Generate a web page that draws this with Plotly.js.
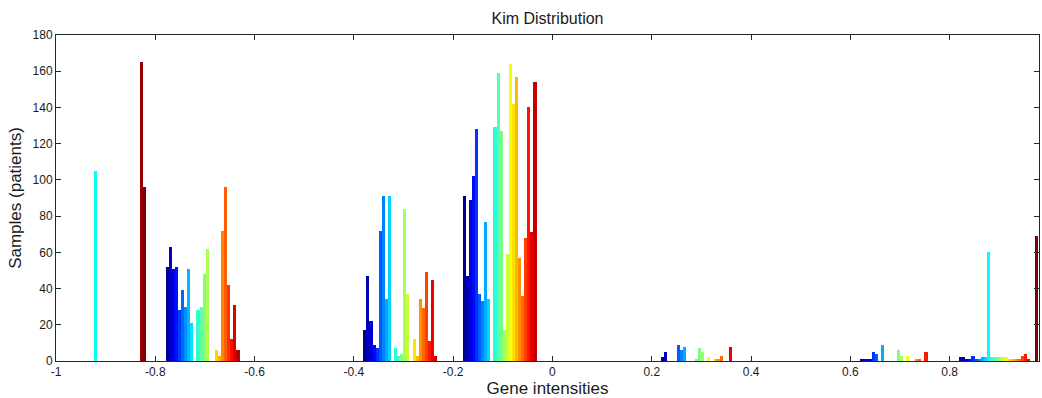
<!DOCTYPE html>
<html>
<head>
<meta charset="utf-8">
<script src="https://cdn.plot.ly/plotly-3.0.1.min.js"></script>
<style>html,body{margin:0;padding:0;background:#fff;}#chart{width:1042px;height:398px;}</style>
</head>
<body>
<div id="chart"></div>
<script>
// ---- data: bin centres (gene intensity) and sample counts ----
var binsA = [-0.9200, -0.8284, -0.8222];
var countsA = [105, 165, 96];

var binsB = [-0.7760, -0.7698, -0.7636, -0.7574, -0.7512, -0.7450, -0.7388, -0.7326, -0.7264,
             -0.7140, -0.7078, -0.7016, -0.6954, -0.6768, -0.6706, -0.6644, -0.6582, -0.6520,
             -0.6458, -0.6396, -0.6334];
var countsB = [52, 63, 51, 52, 28, 39, 30, 51, 21, 28, 30, 48, 62, 6, 3, 72, 96, 42, 12, 31, 6];

var binsC = [-0.3780, -0.3718, -0.3656, -0.3594, -0.3532, -0.3470, -0.3408, -0.3346, -0.3284,
             -0.3160, -0.3098, -0.3036, -0.2974, -0.2912, -0.2788, -0.2726, -0.2664, -0.2602,
             -0.2540, -0.2478, -0.2416, -0.2354];
var countsC = [17, 47, 22, 9, 7, 72, 91, 34, 91, 7, 3, 4, 84, 37, 12, 3, 34, 29, 49, 11, 45, 3];

var binsD = [-0.1778, -0.1716, -0.1654, -0.1592, -0.1530, -0.1468, -0.1406, -0.1344, -0.1282,
             -0.1158, -0.1096, -0.1034, -0.0972, -0.0910, -0.0848, -0.0786, -0.0724, -0.0662,
             -0.0600, -0.0538, -0.0476, -0.0414, -0.0352];
var countsD = [91, 47, 89, 102, 128, 37, 33, 77, 34, 129, 159, 127, 17, 59, 164, 142, 157, 57,
               36, 68, 140, 71, 154];

var binsE = [0.2222, 0.2284, 0.2532, 0.2594, 0.2656, 0.2904, 0.2966, 0.3028, 0.3152, 0.3276,
             0.3338, 0.3400, 0.3586];
var countsE = [2, 5, 9, 6, 8, 1, 7, 5, 2, 1, 1, 3, 8];

var binsF = [0.6222, 0.6284, 0.6346, 0.6408, 0.6470, 0.6532, 0.6656, 0.6966, 0.7028, 0.7152,
             0.7338, 0.7400, 0.7524];
var countsF = [1, 1, 1, 1, 5, 4, 9, 6, 3, 3, 1, 1, 5];

var binsG = [0.8222, 0.8284, 0.8346, 0.8408, 0.8470, 0.8532, 0.8594, 0.8656, 0.8718, 0.8780,
             0.8842, 0.8904, 0.8966, 0.9028, 0.9090, 0.9152, 0.9214, 0.9276, 0.9338, 0.9400,
             0.9462, 0.9524, 0.9586, 0.9748];
var countsG = [2, 2, 1, 1, 3, 1, 1, 2, 2, 60, 2, 2, 2, 2, 2, 2, 1, 1, 1, 1, 3, 4, 1, 69];

var xTickVals = [-1, -0.8, -0.6, -0.4, -0.2, 0, 0.2, 0.4, 0.6, 0.8];
var xTickText = ['-1', '-0.8', '-0.6', '-0.4', '-0.2', '0', '0.2', '0.4', '0.6', '0.8'];

// ---- styling helpers ----
function jet(t) {
  t = Math.max(0, Math.min(1, t));
  function c(v) { return Math.round(255 * Math.max(0, Math.min(1, v))); }
  var r = Math.min(4 * t - 1.5, -4 * t + 4.5);
  var g = Math.min(4 * t - 0.5, -4 * t + 3.5);
  var b = Math.min(4 * t + 0.5, -4 * t + 2.5);
  return 'rgb(' + c(r) + ',' + c(g) + ',' + c(b) + ')';
}
// colour runs through the jet map across every 0.2-wide span of intensity
function binColor(x) {
  var base = Math.floor((x + 1e-9) / 0.2) * 0.2;
  var off = x - base;
  return jet((off - 0.02) / 0.155);
}

var xs = [].concat(binsA, binsB, binsC, binsD, binsE, binsF, binsG);
var ys = [].concat(countsA, countsB, countsC, countsD, countsE, countsF, countsG);
var cols = xs.map(binColor);

var trace = {
  type: 'bar',
  x: xs,
  y: ys,
  width: 0.0062,
  marker: { color: cols, line: { width: 0 } },
  hoverinfo: 'x+y'
};

var fontFam = '"Liberation Sans", Arial, Helvetica, sans-serif';

var layout = {
  width: 1042,
  height: 398,
  margin: { l: 56, r: 3, t: 35, b: 37 },
  paper_bgcolor: '#ffffff',
  plot_bgcolor: '#ffffff',
  showlegend: false,
  bargap: 0,
  font: { family: fontFam, size: 12, color: '#1a1a1a' },
  title: {
    text: 'Kim Distribution',
    font: { family: fontFam, size: 16, color: '#1a1a1a' },
    x: 0.5, xref: 'paper', xanchor: 'center',
    y: 1 - 18 / 398, yref: 'container', yanchor: 'middle'
  },
  xaxis: {
    range: [-1, 0.98],
    tickmode: 'array',
    tickvals: xTickVals,
    ticktext: xTickText,
    ticks: 'inside',
    ticklen: 5,
    tickcolor: '#262626',
    showline: true,
    linecolor: '#262626',
    linewidth: 1,
    mirror: 'ticks',
    showgrid: false,
    zeroline: false,
    tickfont: { family: fontFam, size: 12, color: '#1a1a1a' },
    title: { text: 'Gene intensities', font: { family: fontFam, size: 17, color: '#1a1a1a' }, standoff: 0 }
  },
  yaxis: {
    range: [0, 180],
    tick0: 0,
    dtick: 20,
    ticks: 'inside',
    ticklen: 5,
    tickcolor: '#262626',
    showline: true,
    linecolor: '#262626',
    linewidth: 1,
    mirror: 'ticks',
    showgrid: false,
    zeroline: false,
    tickfont: { family: fontFam, size: 12, color: '#1a1a1a' },
    title: { text: 'Samples (patients)', font: { family: fontFam, size: 17, color: '#1a1a1a' }, standoff: 6 }
  }
};

Plotly.newPlot('chart', [trace], layout, { displayModeBar: false, staticPlot: true });
</script>
</body>
</html>
